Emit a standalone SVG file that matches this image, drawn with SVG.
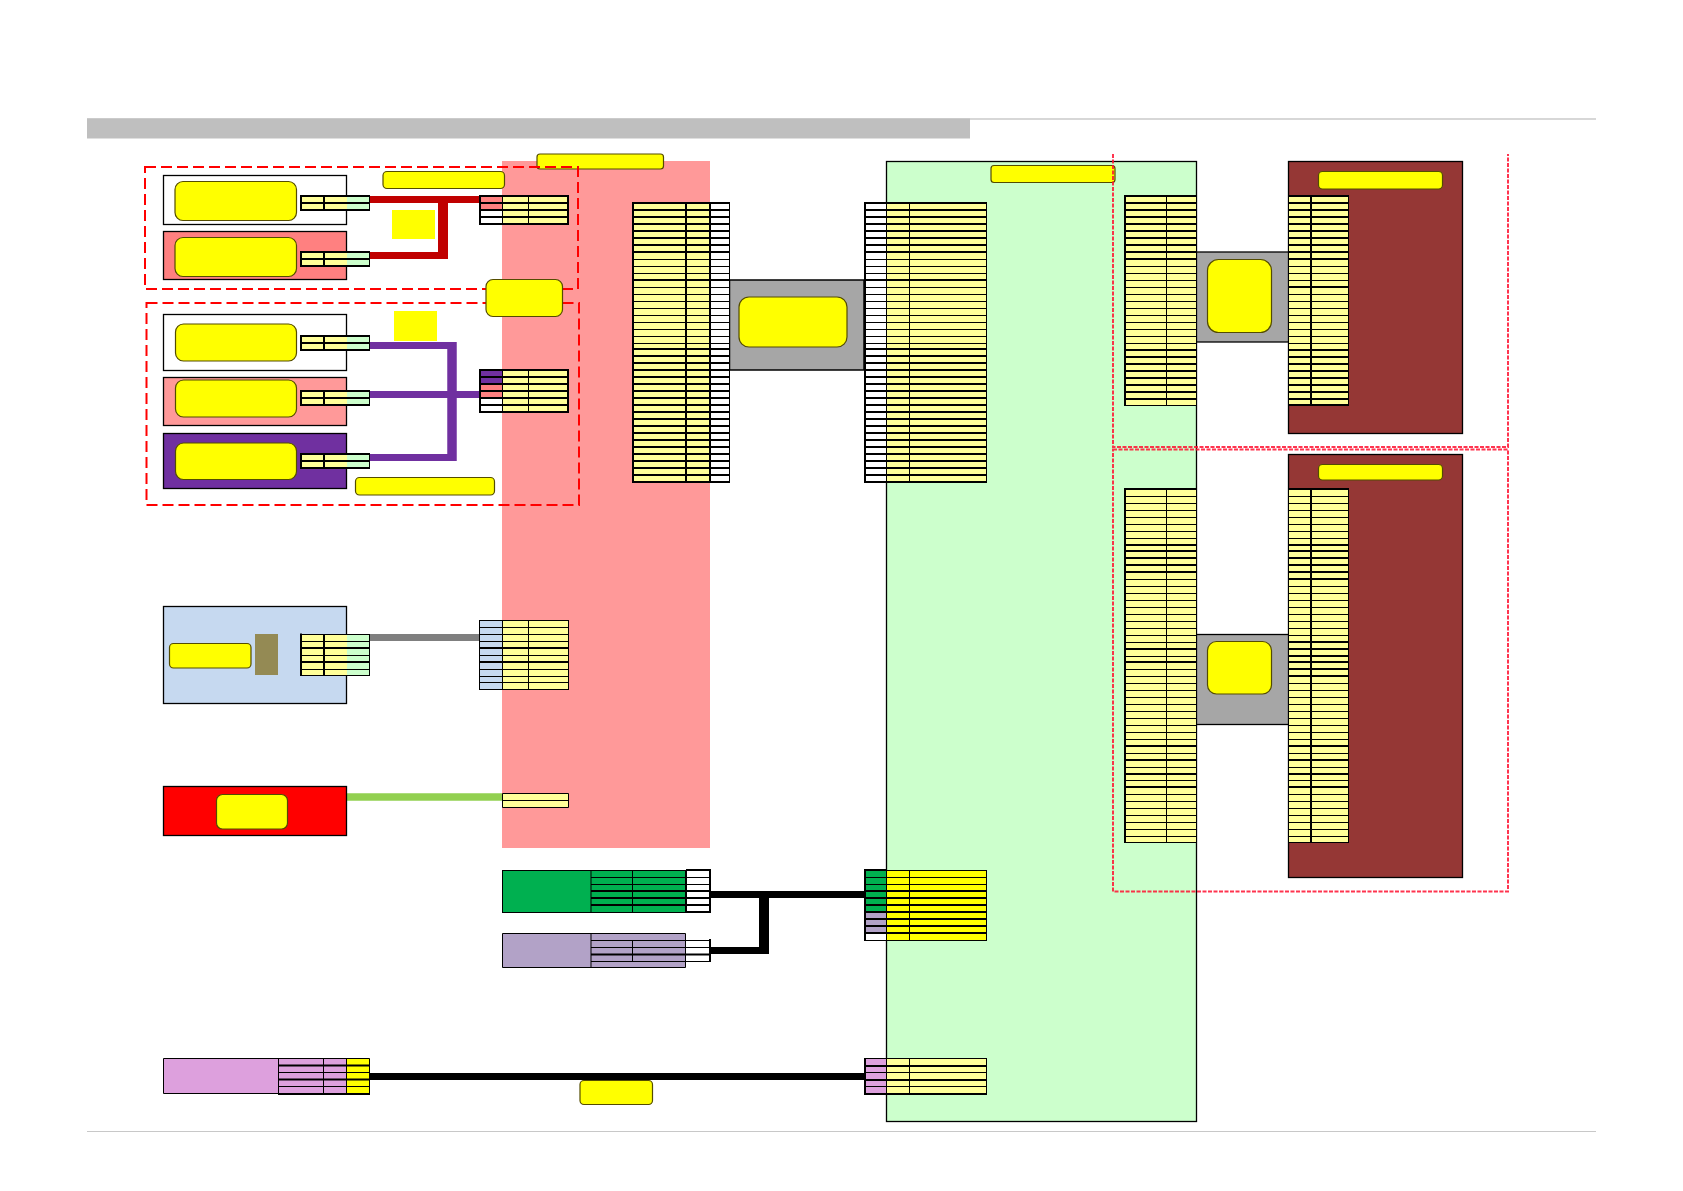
<svg xmlns="http://www.w3.org/2000/svg" xmlns:xlink="http://www.w3.org/1999/xlink" width="1683" height="1191" viewBox="0 0 1683 1191">
<style>
.ly{fill:#ffff99}.yy{fill:#ffff00}.w{fill:#fff}.gr{fill:#ccffcc}.pk{fill:#ff8080}.pk2{fill:#ff9999}.pu{fill:#7030a0}.bl{fill:#c6d9f0}.gn{fill:#00b050}.li{fill:#b2a2c7}.pl{fill:#dda0dd}
.t{stroke:#000;stroke-width:1;fill:none}
.h{stroke:#000;stroke-width:2;fill:none}
.box{stroke:#000;stroke-width:1.3}
.lab{fill:#ffff00;stroke:#544c00;stroke-width:1.2}
.dash{fill:none;stroke:#ff0000;stroke-width:2;stroke-dasharray:11 5}
.fd{fill:none;stroke:#ff1030;stroke-width:2;stroke-dasharray:4 1.500;opacity:.85}
</style>
<defs>
<g id="r40">
<path class="t" d="M0 56.5H1M0 63.5H1M0 70.5H1M0 84.5H1M0 91.5H1M0 98.5H1M0 105.5H1M0 112.5H1M0 119.5H1M0 126.5H1M0 133.5H1M0 140.5H1"/>
<path class="h" d="M0 7H1M0 14H1M0 21H1M0 28H1M0 35H1M0 42H1M0 49H1M0 77H1M0 146H1M0 153H1M0 160H1M0 167H1M0 174H1M0 181H1M0 188H1M0 195H1M0 202H1M0 209H1M0 216H1M0 223H1M0 230H1M0 237H1M0 244H1M0 251H1M0 258H1M0 265H1M0 272H1"/>
</g>
<g id="r30a">
<path class="t" d="M0 70.5H1M0 77.5H1M0 84.5H1M0 91.5H1M0 98.5H1M0 105.5H1M0 112.5H1M0 119.5H1M0 126.5H1M0 133.5H1M0 140.5H1M0 147.5H1"/>
<path class="h" d="M0 7H1M0 14H1M0 21H1M0 28H1M0 35H1M0 42H1M0 49H1M0 56H1M0 63H1M0 154H1M0 161H1M0 168H1M0 175H1M0 182H1M0 189H1M0 196H1M0 203H1"/>
</g>
<g id="r30b">
<path class="t" d="M0 70.5H1M0 77.5H1M0 84.5H1M0 98.5H1M0 105.5H1M0 112.5H1M0 119.5H1M0 126.5H1M0 133.5H1M0 140.5H1M0 147.5H1"/>
<path class="h" d="M0 7H1M0 14H1M0 21H1M0 28H1M0 35H1M0 42H1M0 49H1M0 56H1M0 63H1M0 91H1M0 154H1M0 161H1M0 168H1M0 175H1M0 182H1M0 189H1M0 196H1M0 203H1"/>
</g>
<g id="r51a">
<path class="t" d="M0 7.5H1M0 14.5H1M0 21.5H1M0 28.5H1M0 35.5H1M0 42.5H1M0 49.5H1M0 90.5H1M0 97.5H1M0 104.5H1M0 111.5H1M0 118.5H1M0 125.5H1M0 132.5H1M0 139.5H1M0 146.5H1M0 153.5H1M0 167.5H1M0 180.5H1M0 187.5H1M0 194.5H1M0 201.5H1M0 208.5H1M0 215.5H1M0 222.5H1M0 229.5H1M0 236.5H1M0 243.5H1M0 250.5H1M0 264.5H1M0 278.5H1M0 291.5H1M0 305.5H1M0 312.5H1M0 319.5H1M0 326.5H1M0 333.5H1M0 340.5H1M0 347.5H1"/>
<path class="h" d="M0 56H1M0 62H1M0 69H1M0 76H1M0 83H1M0 160H1M0 173H1M0 257H1M0 271H1M0 285H1M0 298H1"/>
</g>
<g id="r51b">
<path class="t" d="M0 7.5H1M0 14.5H1M0 21.5H1M0 28.5H1M0 35.5H1M0 42.5H1M0 49.5H1M0 97.5H1M0 104.5H1M0 111.5H1M0 118.5H1M0 125.5H1M0 132.5H1M0 139.5H1M0 146.5H1M0 194.5H1M0 201.5H1M0 208.5H1M0 215.5H1M0 222.5H1M0 229.5H1M0 236.5H1M0 243.5H1M0 250.5H1M0 264.5H1M0 278.5H1M0 291.5H1M0 305.5H1M0 312.5H1M0 319.5H1M0 326.5H1M0 333.5H1M0 340.5H1M0 347.5H1"/>
<path class="h" d="M0 56H1M0 62H1M0 69H1M0 76H1M0 83H1M0 90H1M0 153H1M0 160H1M0 167H1M0 173H1M0 180H1M0 187H1M0 257H1M0 271H1M0 285H1M0 298H1"/>
</g>
</defs>

<g id="frame">
<rect x="87" y="118.500" width="1509" height="1" fill="#b0b0b0"/>
<rect x="87" y="118.500" width="883" height="20" fill="#bfbfbf"/>
<rect x="87" y="1131" width="1509" height="1" fill="#c8c8c8"/>
</g>

<g id="panels">
<rect id="panel-pink" x="502" y="161" width="208" height="687" class="pk2"/>
<rect id="panel-green" x="886.500" y="161.500" width="310" height="960" class="gr box"/>
<rect id="panel-brown-1" x="1288.500" y="161.500" width="174" height="272" fill="#953735" class="box"/>
<rect id="panel-brown-2" x="1288.500" y="454.500" width="174" height="423" fill="#953735" class="box"/>
<rect id="label-top-pink" x="537" y="154" width="126.500" height="15" rx="3" class="lab"/>
<rect id="label-top-green" x="991" y="165.500" width="124" height="17" rx="3" class="lab"/>
</g>

<g id="connectors" fill="none">
<path d="M370 199.500H479M370 255.500H443" stroke="#c00000" stroke-width="7"/>
<path d="M443 196V259" stroke="#c00000" stroke-width="10"/>
<path d="M370 345.500H452M370 457.500H452M370 394.500H479" stroke="#7030a0" stroke-width="7"/>
<path d="M452 342V461" stroke="#7030a0" stroke-width="9.500"/>
<path d="M370 637.500H479" stroke="#7f7f7f" stroke-width="7"/>
<path d="M347 797H502" stroke="#92d050" stroke-width="7.500"/>
<path d="M710 894.500H864M710 950.500H764" stroke="#000" stroke-width="7"/>
<path d="M764 891V954" stroke="#000" stroke-width="10"/>
<path d="M370 1076.500H864" stroke="#000" stroke-width="7"/>
</g>

<g id="bridge-main">
<rect x="729.500" y="280" width="134.500" height="90" fill="#a6a6a6" stroke="#000" stroke-width="1.500"/>
<rect x="739" y="297" width="108" height="50" rx="10" class="lab"/>
</g>
<g id="bridge-upper">
<rect x="1196.500" y="252" width="92" height="90" fill="#a6a6a6" class="box"/>
<rect x="1207.500" y="259.500" width="64" height="73" rx="11" class="lab"/>
</g>
<g id="bridge-lower">
<rect x="1196.500" y="634.500" width="92" height="90" fill="#a6a6a6" class="box"/>
<rect x="1207.500" y="641.500" width="64" height="52.500" rx="9" class="lab"/>
</g>

<g id="node-a">
<rect x="163.500" y="175.500" width="183" height="49" fill="#fff" class="box"/>
<rect x="175" y="181.500" width="121.500" height="39" rx="8" class="lab"/>
<rect x="301" y="196" width="46" height="14" class="ly"/><rect x="347" y="196" width="23" height="14" class="gr"/>
<path class="h" d="M301 196H370M301 203H370M301 210H370M301 195V211M324 196V210"/><path class="t" d="M369.500 196V210"/>
</g>
<g id="node-b">
<rect x="163.500" y="231.500" width="183" height="48" class="pk box"/>
<rect x="175" y="237.500" width="121.500" height="39" rx="8" class="lab"/>
<rect x="301" y="252" width="46" height="14" class="ly"/><rect x="347" y="252" width="23" height="14" class="gr"/>
<path class="h" d="M301 252H370M301 259H370M301 266H370M301 251V267M324 252V266"/><path class="t" d="M369.500 252V266"/>
</g>
<g id="table-red">
<rect x="479.500" y="196" width="23" height="14" class="pk"/><rect x="479.500" y="210" width="23" height="14" class="w"/><rect x="502.500" y="196" width="66" height="28" class="ly"/>
<path class="h" d="M479 196H569M479 203H569M479 210H569M479 217H569M479 224H569M480 195V225M568 195V225"/>
<path class="t" d="M502.500 196V224M528.500 196V224"/>
</g>
<rect id="note-red" x="392" y="210" width="43" height="29" class="yy"/>
<rect id="label-red" x="383" y="171.500" width="121.500" height="17" rx="4" class="lab"/>

<g id="node-c">
<rect x="163.500" y="314.500" width="183" height="56" fill="#fff" class="box"/>
<rect x="175.500" y="324" width="121" height="37" rx="8" class="lab"/>
<rect x="301" y="336" width="46" height="14" class="ly"/><rect x="347" y="336" width="23" height="14" class="gr"/>
<path class="h" d="M301 336H370M301 343H370M301 350H370M301 335V351M324 336V350"/><path class="t" d="M369.500 336V350"/>
</g>
<g id="node-d">
<rect x="163.500" y="377.500" width="183" height="48" class="pk2 box"/>
<rect x="175.500" y="380" width="121" height="37" rx="8" class="lab"/>
<rect x="301" y="391" width="46" height="14" class="ly"/><rect x="347" y="391" width="23" height="14" class="gr"/>
<path class="h" d="M301 391H370M301 398H370M301 405H370M301 390V406M324 391V405"/><path class="t" d="M369.500 391V405"/>
</g>
<g id="node-e">
<rect x="163.500" y="433.500" width="183" height="55" class="pu box"/>
<rect x="175.500" y="443" width="121" height="36.500" rx="8" class="lab"/>
<rect x="301" y="454" width="46" height="14" class="ly"/><rect x="347" y="454" width="23" height="14" class="gr"/>
<path class="h" d="M301 454H370M301 461H370M301 468H370M301 453V469M324 454V468"/><path class="t" d="M369.500 454V468"/>
</g>
<g id="table-purple">
<rect x="479.500" y="370" width="23" height="14" class="pu"/><rect x="479.500" y="384" width="23" height="14" class="pk"/><rect x="479.500" y="398" width="23" height="14" class="w"/><rect x="502.500" y="370" width="66" height="42" class="ly"/>
<path class="h" d="M479 370H569M479 377H569M479 384H569M479 391H569M479 398H569M479 405H569M479 412H569M480 369V413M568 369V413"/>
<path class="t" d="M502.500 370V412M528.500 370V412"/>
</g>
<rect id="note-purple" x="394" y="311" width="43" height="30" class="yy"/>
<rect id="label-purple" x="355.500" y="477.500" width="139" height="17.500" rx="4" class="lab"/>

<g id="table-main-left">
<rect x="633" y="203" width="77" height="279" class="ly"/><rect x="710" y="203" width="20" height="279" class="w"/>
<use xlink:href="#r40" href="#r40" transform="translate(633,203) scale(97,1)"/>
<path class="h" d="M632 203H730M632 482H730M633 202V483M686 203V482M710 203V482"/>
<path class="t" d="M729.500 203V482"/>
</g>
<g id="table-main-right">
<rect x="864" y="203" width="23" height="279" class="w"/><rect x="887" y="203" width="100" height="279" class="ly"/>
<use xlink:href="#r40" href="#r40" transform="translate(864,203) scale(123,1)"/>
<path class="h" d="M864 203H987M864 482H987M865 202V483"/>
<path class="t" d="M886.500 203V482M909.500 203V482M986.500 203V482"/>
</g>

<g id="table-upper-left">
<rect x="1125" y="196" width="72" height="210" class="ly"/>
<use xlink:href="#r30a" href="#r30a" transform="translate(1125,196) scale(72,1)"/>
<path class="h" d="M1124 196H1197M1125 195V406"/>
<path class="t" d="M1124 405.500H1197M1166.500 196V405M1196.500 196V405"/>
</g>
<g id="table-upper-right">
<rect x="1289" y="196" width="60" height="210" class="ly"/>
<use xlink:href="#r30b" href="#r30b" transform="translate(1289,196) scale(60,1)"/>
<path class="h" d="M1288 196H1349M1311 196V405M1288 405H1349"/>
<path class="t" d="M1348.500 196V405M1288.500 196V405"/>
</g>
<rect id="label-brown-1" x="1318.500" y="171.500" width="124" height="17.500" rx="4" class="lab"/>

<g id="table-lower-left">
<rect x="1125" y="489" width="72" height="354" class="ly"/>
<use xlink:href="#r51a" href="#r51a" transform="translate(1125,489) scale(72,1)"/>
<path class="h" d="M1124 489H1197M1125 488V843"/>
<path class="t" d="M1124 842.500H1197M1166.500 489V842M1196.500 489V842"/>
</g>
<g id="table-lower-right">
<rect x="1289" y="489" width="60" height="354" class="ly"/>
<use xlink:href="#r51b" href="#r51b" transform="translate(1289,489) scale(60,1)"/>
<path class="h" d="M1288 489H1349M1311 489V842"/>
<path class="t" d="M1288 842.500H1349M1348.500 489V842M1288.500 489V842"/>
</g>
<rect id="label-brown-2" x="1318.500" y="464.500" width="124" height="15.500" rx="4" class="lab"/>

<g id="node-blue">
<rect x="163.500" y="606.500" width="183" height="97" class="bl box"/>
<rect x="169.500" y="643.500" width="81.500" height="24.500" rx="4" class="lab"/>
<rect x="255" y="634" width="23" height="41" fill="#948a54"/>
<rect x="301" y="634" width="46" height="42" class="ly"/><rect x="347" y="634" width="23" height="42" class="gr"/>
<path class="h" d="M301 648H370M301 662H370M301 633.500V676M324 634V676"/>
<path class="t" d="M301 634.500H370M301 641.500H370M301 655.500H370M301 669.500H370M301 675.500H370M369.500 634V676"/>
</g>
<g id="table-blue">
<rect x="479.500" y="620.500" width="23" height="69" class="bl"/><rect x="502.500" y="620.500" width="66" height="69" class="ly"/>
<path class="t" d="M479 620.500H569M479 627.500H569M479 634.500H569M479 641.500H569M479 655.500H569M479 669.500H569M479 676.500H569M479 682.500H569M479 689.500H569M479.500 620V690M502.500 620V690M528.500 620V690M568.500 620V690"/>
<path class="h" d="M479 648H569M479 662H569"/>
</g>

<g id="node-red">
<rect x="163.500" y="786.500" width="183" height="49" fill="#ff0000" class="box"/>
<rect x="216.500" y="794.500" width="71" height="34.500" rx="6" class="lab"/>
</g>
<g id="table-green-line">
<rect x="502.500" y="793.500" width="66" height="14" class="ly"/>
<path class="t" d="M502.500 793.500H568.500V807.500H502.500ZM502.500 800.500H568.500"/>
</g>

<g id="node-green">
<rect x="502.500" y="870.500" width="183" height="42" class="gn"/><rect x="686" y="870" width="24" height="42" class="w"/>
<path class="t" d="M502.500 870.500H686M502.500 912.500H686M502.500 870V913M591 877.500H710M591 884.500H710M591 870V913M632.500 870V913"/>
<path class="h" d="M591 891H710M591 898H710M591 905H710M686 870H710M686 912H710M710 869V913M686 870V913"/>
</g>
<g id="node-lilac">
<rect x="502.500" y="933.500" width="183" height="34" class="li"/><rect x="686" y="940" width="24" height="21" class="w"/>
<path class="t" d="M502.500 933.500H685.500V967.500H502.500ZM591 933V968M591 940.500H710M591 947.500H710M591 961.500H710M632.500 940V961"/>
<path class="h" d="M591 954.500H710M710 939V962"/>
</g>
<g id="table-fig">
<rect x="864" y="870" width="23" height="42" class="gn"/><rect x="864" y="912" width="23" height="21" class="li"/><rect x="864" y="933" width="23" height="7.500" class="w"/><rect x="887" y="870" width="100" height="70.500" class="yy"/>
<path class="h" d="M865 869V941M864 870H887M864 891H987M864 898H987M864 905H987M864 912H987M864 919H987M864 926H987M864 933H987"/>
<path class="t" d="M864 877.500H987M864 884.500H987M864 870.500H987M864 940.500H987M886.500 870V940M909.500 870V940M986.500 870V940"/>
</g>

<g id="node-plum">
<rect x="163.500" y="1058.500" width="115" height="35" class="pl"/><rect x="278" y="1058.500" width="69" height="35" class="pl"/><rect x="347" y="1058.500" width="23" height="35" class="yy"/>
<path class="t" d="M163.500 1058.500H369.500V1093.500H163.500ZM278.500 1058V1094M323.500 1058V1094M346.500 1058V1094M278 1086.500H370M278 1072.500H370"/>
<path class="h" d="M278 1065.500H370M278 1079.500H370M278 1094H370"/>
</g>
<g id="table-plum">
<rect x="864" y="1059" width="23" height="35" class="pl"/><rect x="887" y="1059" width="100" height="35" class="ly"/>
<path class="t" d="M864 1058.500H987M864 1072.500H987M864 1086.500H987M886.500 1059V1094M909.500 1059V1094M986.500 1059V1094"/>
<path class="h" d="M865 1058V1095M864 1066H987M864 1080H987M864 1094H987"/>
</g>
<rect id="label-wire" x="580" y="1080.500" width="72.500" height="24" rx="4" class="lab"/>

<g id="dashed-groups">
<rect x="145" y="167" width="433" height="122" class="dash"/>
<rect x="146.500" y="303" width="432.500" height="202" class="dash"/>
<path class="fd" d="M1113 154V447H1508V154"/>
<rect x="1113" y="449.500" width="395" height="442" class="fd"/>
</g>
<rect id="label-mid" x="486" y="279.500" width="76.500" height="37" rx="7" class="lab"/>
</svg>
